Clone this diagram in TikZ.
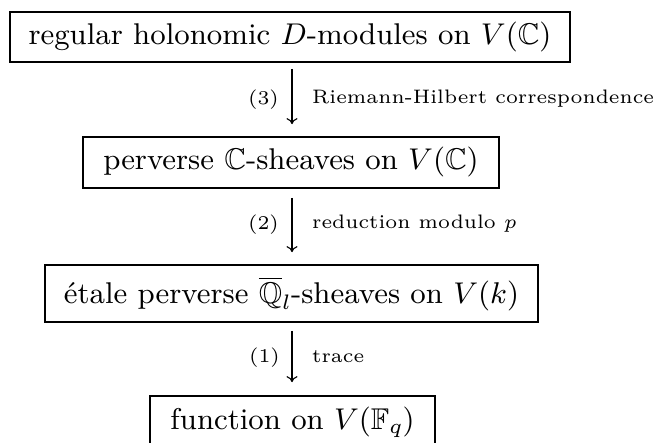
\documentclass[tikz,border=0pt]{standalone}
\usepackage{amssymb}
\usetikzlibrary{arrows.meta}
\DeclareFontShape{TU}{lmr}{m}{n}{<-25> \UnicodeFontFile{lmroman6-regular}{\UnicodeFontTeXLigatures} <25-> \UnicodeFontFile{lmroman9-regular}{\UnicodeFontTeXLigatures}}{}
\DeclareFontShape{OT1}{cmr}{m}{n}{<-25> cmr6 <25-> cmr9}{}
\DeclareFontShape{OML}{cmm}{m}{it}{<-25> cmmi6 <25-> cmmi9}{}
\DeclareFontFamily{U}{msb}{}
\DeclareFontShape{U}{msb}{m}{n}{<-25> msbm6 <25-> msbm9}{}
\begin{document}
\begin{tikzpicture}[x=1pt,y=-1pt,
  boxnode/.style={draw, line width=1.7pt, inner sep=0pt, font=\fontsize{30}{36}\selectfont},
  lbl/.style={inner sep=0pt, font=\fontsize{19.5}{23}\selectfont},
  arr/.style={-{To[length=6pt,width=11pt]}, line width=1.1pt}]
\useasboundingbox (0,0) rectangle (656,443);
\node[boxnode, minimum width=560, minimum height=50] (b1) at (290,37) {regular holonomic $D$-modules on $V(\mathbb{C})$};
\node[boxnode, minimum width=416, minimum height=51] (b2) at (291,162.5) {perverse $\mathbb{C}$-sheaves on $V(\mathbb{C})$};
\node[boxnode, minimum width=493, minimum height=57] (b3) at (291.5,293.5) {\'etale perverse $\overline{\mathbb{Q}}_l$-sheaves on $V(k)$};
\node[boxnode, minimum width=285, minimum height=53] (b4) at (292.5,422.5) {function on $V(\mathbb{F}_q)$};
\coordinate (ax) at (292,0);
\draw[arr, shorten <=6pt, shorten >=12pt] (b1.south -| ax) -- (b2.north -| ax);
\draw[arr, shorten <=9pt, shorten >=12pt] (b2.south -| ax) -- (b3.north -| ax);
\draw[arr, shorten <=8pt, shorten >=13pt] (b3.south -| ax) -- (b4.north -| ax);
\node[lbl, anchor=east] (l3) at (279,100) {(3)};
\node[lbl, anchor=west] (r3) at (312,99) {Riemann-Hilbert correspondence};
\node[lbl, anchor=east] (l2) at (279,225) {(2)};
\node[lbl, anchor=west] (r2) at (312,224) {reduction modulo $p$};
\node[lbl, anchor=east] (l1) at (280,358) {(1)};
\node[lbl, anchor=west] (r1) at (312,357) {trace};
\end{tikzpicture}
\end{document}
